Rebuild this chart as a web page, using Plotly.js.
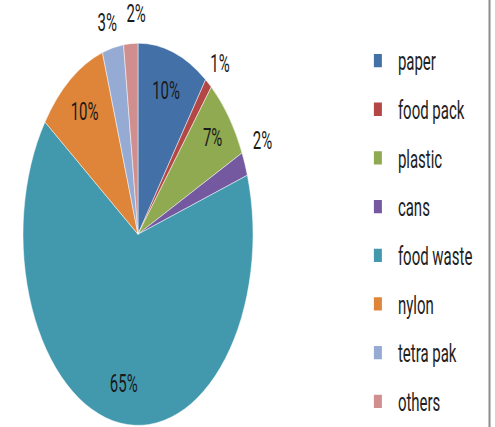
<!DOCTYPE html>
<html>
<head>
<meta charset="utf-8">
<script src="https://cdn.plot.ly/plotly-3.0.1.min.js"></script>
<style>
html,body{margin:0;padding:0;background:#fff;overflow:hidden;}
#wrap{width:495px;height:427px;overflow:hidden;position:relative;}
#chart{width:495px;height:300px;transform:scaleY(1.6615);transform-origin:0 0;}
</style>
</head>
<body>
<div id="wrap"><div id="chart"></div></div>
<script>
const categories = ['paper','food pack','plastic','cans','food waste','nylon','tetra pak','others'];
const values = [10, 1, 7, 2, 65, 10, 3, 2];
const colors = ['#4470A8','#B24745','#8FAA50','#7459A0','#4299AE','#DE8539','#95ABD3','#D08F8E'];
// which slices carry their percent label inside vs outside the pie
const insideLabel = [true, false, true, false, true, true, false, false];

const FONT = 'Roboto, "Liberation Sans", sans-serif';
const W = 495, H = 300;
const CX = 138, CY = 141, R = 115;   // pie centre / radius in unscaled px
// small layout nudges (px) for the outside label layers, to mimic the spreadsheet placement
const outsideNudge = [[0,0],[-7,-1],[0,0],[-3,-10],[0,0],[0,0],[10,0],[20,-2]];

function domainFor(r, dx, dy) {
  const cx = CX + (dx || 0), cy = CY + (dy || 0);
  return {x: [(cx - r) / W, (cx + r) / W], y: [1 - (cy + r) / H, 1 - (cy - r) / H]};
}
const clear = categories.map(() => 'rgba(0,0,0,0)');

const pieBase = {
  type: 'pie',
  labels: categories,
  values: values,
  sort: false,
  direction: 'clockwise',
  rotation: 0,
  domain: domainFor(R),
  hoverinfo: 'none',
  showlegend: false
};

const slices = Object.assign({}, pieBase, {
  textinfo: 'none',
  textposition: 'none',
  marker: {colors: colors, line: {color: 'rgba(255,255,255,0.6)', width: 0.6}}
});

const labelsInside = Object.assign({}, pieBase, {
  hole: 0.58,
  textinfo: 'percent',
  textposition: insideLabel.map(v => v ? 'inside' : 'none'),
  insidetextorientation: 'horizontal',
  textfont: {family: FONT, size: 15, color: '#1a1a1a'},
  marker: {colors: clear, line: {width: 0}}
});

const outsideLayers = [];
insideLabel.forEach((isIn, k) => {
  if (isIn) return;
  outsideLayers.push(Object.assign({}, pieBase, {
    domain: domainFor(R * 1.06, outsideNudge[k][0], outsideNudge[k][1]),
    textinfo: 'percent',
    textposition: categories.map((_, j) => j === k ? 'outside' : 'none'),
    textfont: {family: FONT, size: 15, color: '#1a1a1a'},
    marker: {colors: clear, line: {width: 0}}
  }));
});

const legendEntries = categories.map((c, i) => ({
  type: 'scatter',
  mode: 'markers',
  x: [null], y: [null],
  name: c,
  legendgroup: c,
  marker: {symbol: 'square', size: 8, color: colors[i]},
  hoverinfo: 'none'
}));

const layout = {
  width: W,
  height: H,
  margin: {l: 0, r: 0, t: 0, b: 0},
  paper_bgcolor: '#fff',
  plot_bgcolor: 'rgba(0,0,0,0)',
  showlegend: true,
  font: {family: FONT, size: 15, color: '#222'},
  xaxis: {visible: false},
  yaxis: {visible: false},
  legend: {
    x: 0.723, xanchor: 'left',
    y: 1 - 20.2 / H, yanchor: 'top',
    bgcolor: 'rgba(0,0,0,0)',
    font: {family: FONT, size: 15, color: '#222'},
    traceorder: 'grouped',
    tracegroupgap: 6.8
  },
  shapes: [{
    type: 'line', xref: 'paper', yref: 'paper',
    x0: 489.5 / W, x1: 489.5 / W, y0: 0, y1: 1,
    line: {color: '#8c8c8c', width: 2}
  }]
};

Plotly.newPlot('chart', [slices, labelsInside].concat(outsideLayers, legendEntries), layout, {staticPlot: true, displayModeBar: false});
</script>
</body>
</html>
